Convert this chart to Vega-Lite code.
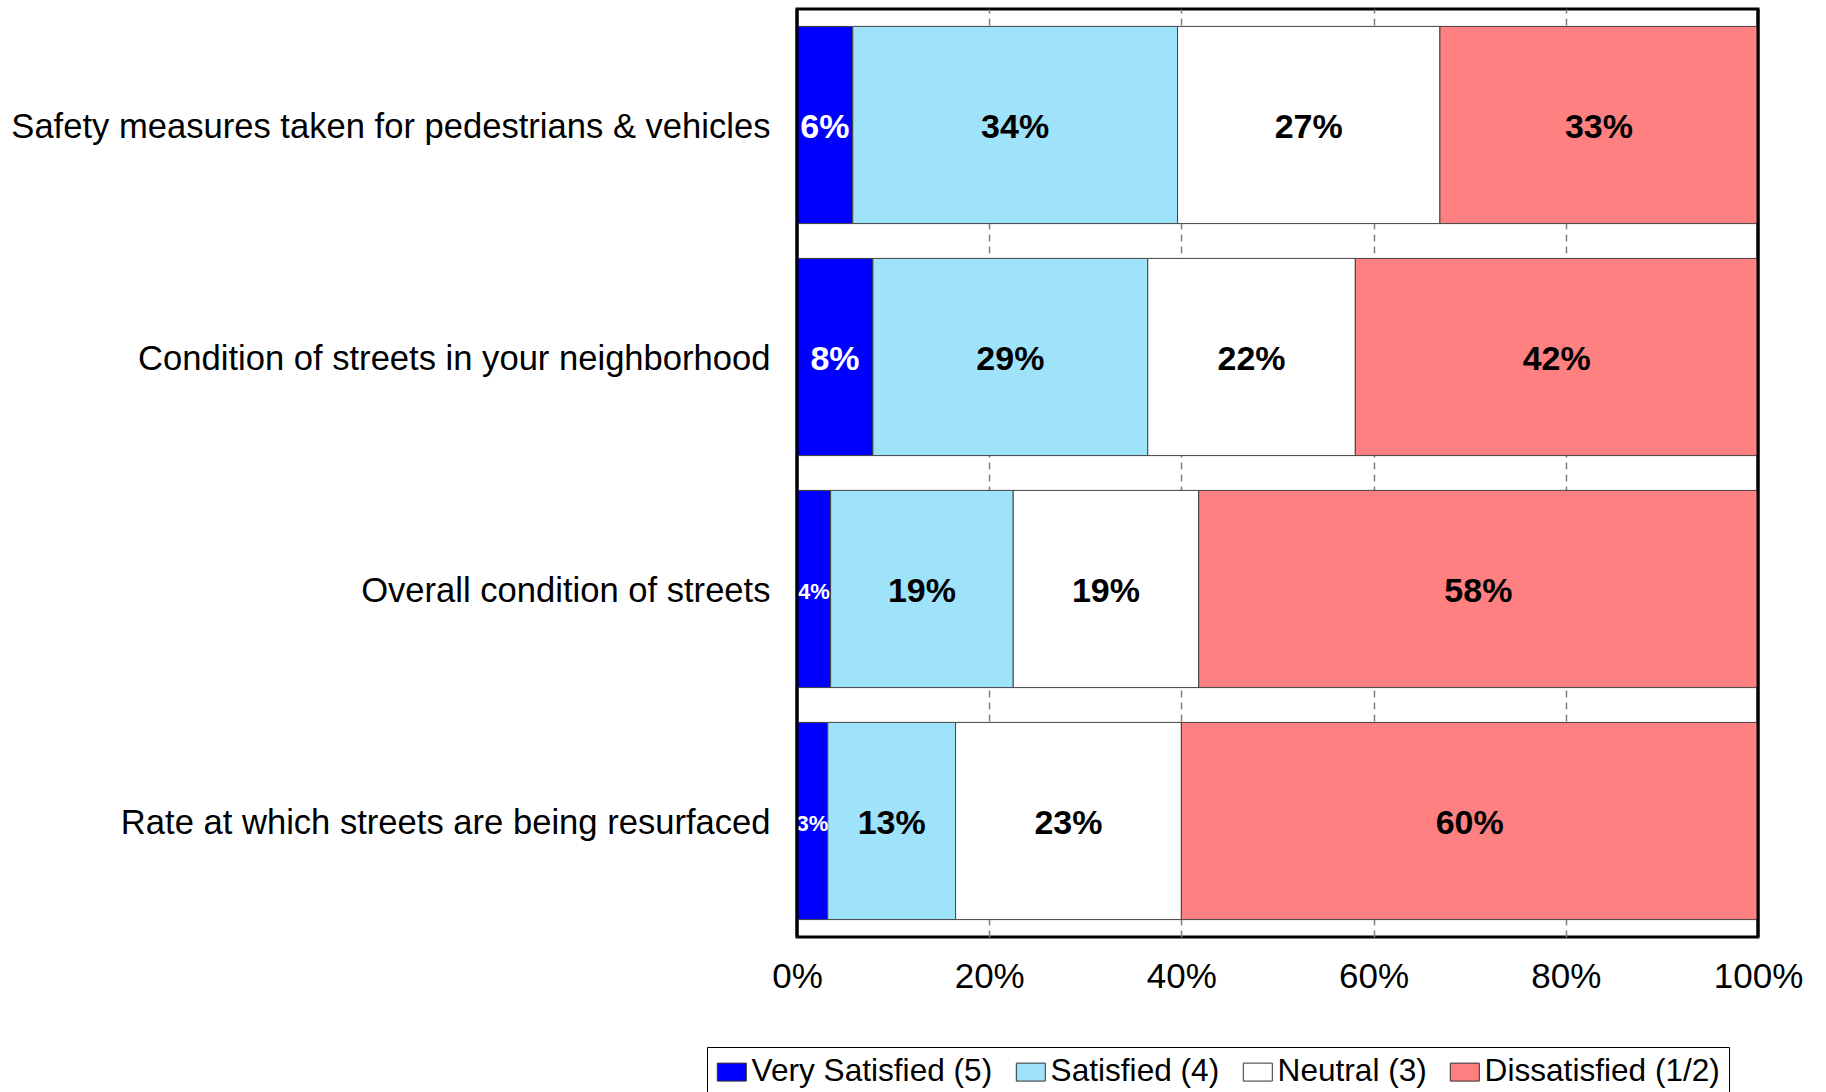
{
  "$schema": "https://vega.github.io/schema/vega-lite/v6.json",
  "width": 961,
  "height": 928,
  "autosize": {"type": "none"},
  "padding": {"left": 797, "top": 9, "right": 68, "bottom": 155},
  "background": "white",
  "config": {
    "font": "Liberation Sans",
    "view": {"stroke": "black", "strokeWidth": 3},
    "legend": {"strokeColor": "black"}
  },
  "data": {
    "values": [
      {"item": "Safety measures taken for pedestrians & vehicles", "cat": "Very Satisfied (5)", "score": 5, "pct": 5.8, "label": "6%"},
      {"item": "Safety measures taken for pedestrians & vehicles", "cat": "Satisfied (4)", "score": 4, "pct": 33.8, "label": "34%"},
      {"item": "Safety measures taken for pedestrians & vehicles", "cat": "Neutral (3)", "score": 3, "pct": 27.3, "label": "27%"},
      {"item": "Safety measures taken for pedestrians & vehicles", "cat": "Dissatisfied (1/2)", "score": 2, "pct": 33.1, "label": "33%"},
      {"item": "Condition of streets in your neighborhood", "cat": "Very Satisfied (5)", "score": 5, "pct": 7.9, "label": "8%"},
      {"item": "Condition of streets in your neighborhood", "cat": "Satisfied (4)", "score": 4, "pct": 28.6, "label": "29%"},
      {"item": "Condition of streets in your neighborhood", "cat": "Neutral (3)", "score": 3, "pct": 21.6, "label": "22%"},
      {"item": "Condition of streets in your neighborhood", "cat": "Dissatisfied (1/2)", "score": 2, "pct": 41.9, "label": "42%"},
      {"item": "Overall condition of streets", "cat": "Very Satisfied (5)", "score": 5, "pct": 3.5, "label": "4%"},
      {"item": "Overall condition of streets", "cat": "Satisfied (4)", "score": 4, "pct": 19.0, "label": "19%"},
      {"item": "Overall condition of streets", "cat": "Neutral (3)", "score": 3, "pct": 19.3, "label": "19%"},
      {"item": "Overall condition of streets", "cat": "Dissatisfied (1/2)", "score": 2, "pct": 58.2, "label": "58%"},
      {"item": "Rate at which streets are being resurfaced", "cat": "Very Satisfied (5)", "score": 5, "pct": 3.2, "label": "3%"},
      {"item": "Rate at which streets are being resurfaced", "cat": "Satisfied (4)", "score": 4, "pct": 13.3, "label": "13%"},
      {"item": "Rate at which streets are being resurfaced", "cat": "Neutral (3)", "score": 3, "pct": 23.5, "label": "23%"},
      {"item": "Rate at which streets are being resurfaced", "cat": "Dissatisfied (1/2)", "score": 2, "pct": 60.0, "label": "60%"}
    ]
  },
  "layer": [
    {
      "transform": [
        {"stack": "pct", "groupby": ["item"], "sort": [{"field": "score", "order": "descending"}], "as": ["x0", "x1"]}
      ],
      "mark": {"type": "bar", "stroke": "#404040", "strokeWidth": 1},
      "encoding": {
        "y": {
          "field": "item", "type": "nominal",
          "sort": ["Safety measures taken for pedestrians & vehicles", "Condition of streets in your neighborhood", "Overall condition of streets", "Rate at which streets are being resurfaced"],
          "scale": {"paddingInner": 0.15, "paddingOuter": 0.075},
          "axis": {"title": null, "ticks": false, "domain": false, "labelFontSize": 34.6, "labelColor": "black", "labelPadding": 27, "labelLimit": 800, "labelFont": "Liberation Sans", "labelOffset": 3}
        },
        "x": {
          "field": "x0", "type": "quantitative",
          "scale": {"domain": [0, 100], "nice": false},
          "axis": {"title": null, "values": [0, 20, 40, 60, 80, 100], "labelExpr": "datum.value + '%'", "ticks": false, "domain": false, "labelFontSize": 35, "labelColor": "black", "labelPadding": 22, "labelFont": "Liberation Sans", "labelFlush": false, "grid": true, "gridColor": "#808080", "gridDash": [7, 5], "gridWidth": 1.5}
        },
        "x2": {"field": "x1"},
        "color": {
          "field": "cat", "type": "nominal",
          "scale": {"domain": ["Very Satisfied (5)", "Satisfied (4)", "Neutral (3)", "Dissatisfied (1/2)"], "range": ["#0000FF", "#9FE3FB", "#FFFFFF", "#FF8080"]},
          "legend": {
            "title": null, "orient": "none", "legendX": -90, "legendY": 1038,
            "direction": "horizontal", "columns": 4, "columnPadding": 21, "padding": 9,
            "labelFontSize": 31.6, "labelFont": "Liberation Sans", "labelColor": "black", "labelLimit": 500, "labelOffset": 4,
            "symbolType": "M-1,-0.62H1V0.62H-1Z", "symbolSize": 841, "symbolStrokeColor": "#303030", "symbolStrokeWidth": 1, "symbolOpacity": 1
          }
        }
      }
    },
    {
      "transform": [
        {"stack": "pct", "groupby": ["item"], "sort": [{"field": "score", "order": "descending"}], "as": ["x0", "x1"]},
        {"calculate": "(datum.x0 + datum.x1) / 2", "as": "mid"}
      ],
      "mark": {"type": "text", "fontWeight": "bold", "font": "Liberation Sans", "align": "center", "baseline": "middle", "dy": 3},
      "encoding": {
        "y": {"field": "item", "type": "nominal", "sort": ["Safety measures taken for pedestrians & vehicles", "Condition of streets in your neighborhood", "Overall condition of streets", "Rate at which streets are being resurfaced"]},
        "x": {"field": "mid", "type": "quantitative"},
        "text": {"field": "label"},
        "size": {"condition": {"test": "datum.pct < 5", "value": 22}, "value": 34},
        "color": {"condition": {"test": "datum.score == 5", "value": "white"}, "value": "black"}
      }
    },
    {
      "data": {"values": [{"v": 0}, {"v": 100}]},
      "mark": {"type": "rule", "color": "black", "strokeWidth": 3},
      "encoding": {"x": {"field": "v", "type": "quantitative"}}
    }
  ]
}
